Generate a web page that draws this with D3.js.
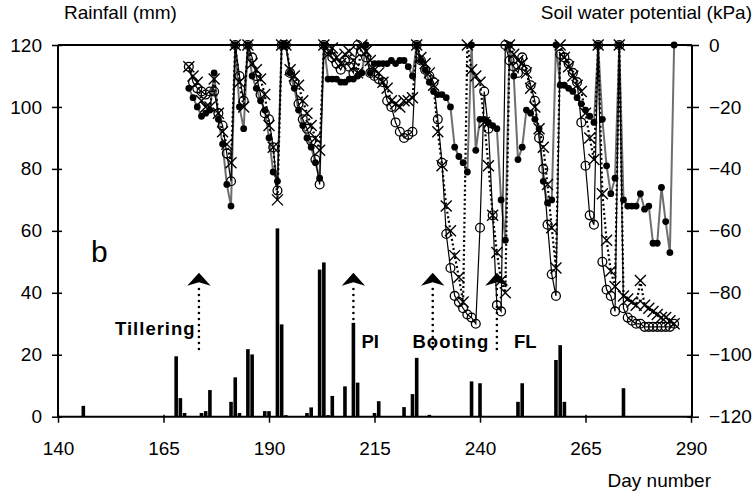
<!DOCTYPE html>
<html><head><meta charset="utf-8">
<script src="https://cdn.jsdelivr.net/npm/d3@7"></script>
<style>
body{margin:0;background:#fff}
text{font-family:"Liberation Sans",Arial,sans-serif;fill:#000}
</style>
</head><body>
<svg id="chart" width="753" height="495"></svg>
<script>
// ---------- data ----------
const xTicks = [140,165,190,215,240,265,290];
const leftTicks = [0,20,40,60,80,100,120];
const rightTicks = [-120,-100,-80,-60,-40,-20,0];

const rainDays = [146,168,169,170,174,175,176,181,182,183,185,186,189,190,192,193,194,199,200,202,203,204,205,208,210,211,215,216,222,224,225,228,238,240,249,250,258,259,260,274];
const rainMm   = [3.5,19.5,6,1.2,1.2,1.8,8.6,4.8,12.7,1.2,21.8,20.1,1.8,1.8,60.8,29.8,0.5,1.2,3,47.5,49.8,0.5,6.7,9.8,30.3,11,1.2,5,3.1,7.3,19,0.6,11.4,10.8,4.8,10.8,18.3,23.1,4.8,9.2];

const swpDays = [171,172,173,174,175,176,177,178,179,180,181,182,183,184,185,186,187,188,189,190,
191,192,193,194,195,196,197,198,199,200,201,202,203,204,205,206,207,208,209,210,
211,212,213,214,215,216,217,218,219,220,221,222,223,224,225,226,227,228,229,230,
231,232,233,234,235,236,237,238,239,240,241,242,243,244,245,246,247,248,249,250,
251,252,253,254,255,256,257,258,259,260,261,262,263,264,265,266,267,268,269,270,
271,272,273,274,275,276,277,278,279,280,281,282,283,284,285,286];

// filled circles, grey line
const swpFilled = [-14,-17,-20,-23,-22,-21,-9,-24,-32,-45,-52,0,-20,-27,0,-10,-14,-18,-21,-30,
-41,-44,0,0,-9,-14,-21,-26,-30,-33,-38,-43,0,-11,-11,-11,-12,-12,-11,-11,
-10,-9,0,-9,-6,-6,-6,-6,-5,-6,-5,-5,-7,-10,0,-5,-8,-12,-15,-16,
-16,-17,-20,-33,-36,-38,-41,0,-34,-24,-24,-25,-26,-27,-50,-63,0,-10,-37,-33,
-21,-22,-24,-27,-44,-51,-50,0,-13,-13,-14,-15,-17,-19,-21,-23,-25,0,-24,-39,
-48,-43,0,-50,-52,-52,-52,-48,-53,-52,-64,-64,-46,-57,-67,0];

// open circles, solid black line
const swpOpen = [-7,-12,-14,-15,-16,-15,-15,-22,-26,-35,-44,0,-10,-18,0,-4,-10,-16,-22,-24,
-33,-47,0,0,-9,-12,-19,-24,-27,-31,-37,-45,0,-2,-4,-6,-8,-5,-7,-9,
0,-2,-4,-9,-10,-11,-12,-18,-20,-25,-28,-30,-29,-28,0,-5,-8,-10,-12,-24,
-38,-61,-72,-81,-83,-85,-87,-88,-90,-59,-15,-27,-55,-84,-86,0,-5,-7,-9,-4,
-8,-13,-18,-30,-40,-58,-74,-81,-3,-4,-6,-9,-12,-25,-39,-55,-58,0,-70,-79,
-81,-86,0,-85,-88,-89,-90,-90,-91,-91,-91,-91,-91,-91,-91,-90];

// crosses, dotted line
const swpCross = [-7,-10,-12,-18,-20,-20,-11,-22,-28,-32,-38,0,-12,-20,0,-6,-8,-11,-16,-26,
-33,-50,0,0,-8,-10,-13,-18,-22,-26,-30,-34,0,-3,-1,-4,-6,-3,-2,-5,
-9,0,-2,-5,-8,-9,-12,-14,-18,-19,-20,-18,-18,-17,0,-4,-6,-9,-13,-28,
-39,-52,-60,-68,-75,-83,0,-8,-10,-12,-25,-39,-55,-67,-76,-80,0,-3,-5,-6,
-9,-14,-20,-27,-33,-45,-59,-72,0,-4,-7,-10,-13,-15,-22,-30,-37,0,-48,-63,
-73,-78,0,-81,-82,-83,-84,-76,-84,-85,-86,-87,-88,-88,-89,-90];

const stageNames = ["Tillering","PI","Booting","FL"];
const stageDays  = [173.4,210,228.8,244];

// ---------- layout ----------
const svg = d3.select("#chart");
const x  = d3.scaleLinear().domain([140,290]).range([58,691]);
const yL = d3.scaleLinear().domain([0,120]).range([416.7,45]);
const yR = d3.scaleLinear().domain([-120,0]).range([416.7,45]);
const FS = 19;

// bars
svg.append("g").selectAll("rect").data(rainDays).join("rect")
  .attr("x", (d)=>x(d)-1.8).attr("width",3.6)
  .attr("y", (d,i)=>yL(rainMm[i])).attr("height",(d,i)=>yL(0)-yL(rainMm[i]))
  .attr("fill","#000");

// axes
const axL = svg.append("g").attr("transform","translate(58,0)")
  .call(d3.axisLeft(yL).tickValues(leftTicks).tickSizeOuter(0));
axL.select(".domain").remove();
axL.selectAll(".tick line").attr("x1",-6).attr("x2",4).attr("stroke-width",1.5);
axL.selectAll(".tick text").attr("x",-16).attr("font-size",FS).attr("font-family","Liberation Sans, Arial, sans-serif");

const axR = svg.append("g").attr("transform","translate(692,0)")
  .call(d3.axisRight(yR).tickValues(rightTicks).tickSizeOuter(0));
axR.select(".domain").remove();
axR.selectAll(".tick line").attr("x1",-5).attr("x2",7).attr("stroke-width",1.5);
axR.selectAll(".tick text").attr("x",17).attr("font-size",FS).attr("font-family","Liberation Sans, Arial, sans-serif");

const axB = svg.append("g").attr("transform",`translate(0,${yL(0)})`)
  .call(d3.axisBottom(x).tickValues(xTicks).tickSizeOuter(0));
axB.select(".domain").remove();
axB.selectAll(".tick line").attr("y1",-2).attr("y2",6).attr("stroke-width",1.5);
axB.selectAll(".tick text").attr("y",25).attr("font-size",FS).attr("font-family","Liberation Sans, Arial, sans-serif");

// frame lines (axes + top)
const fr = svg.append("g").attr("stroke","#000").attr("stroke-width",2);
fr.append("line").attr("x1",58).attr("x2",58).attr("y1",yL(120)).attr("y2",yL(0));
fr.append("line").attr("x1",692).attr("x2",692).attr("y1",yL(120)).attr("y2",yL(0));
fr.append("line").attr("x1",58).attr("x2",692).attr("y1",yL(0)).attr("y2",yL(0));
fr.append("line").attr("x1",58).attr("x2",692).attr("y1",yL(120)).attr("y2",yL(120));

// series
function pts(vals){ return swpDays.map((d,i)=>[d,vals[i]]); }
const line = d3.line().x(d=>x(d[0])).y(d=>yR(d[1]));

svg.append("path").datum(pts(swpFilled)).attr("d",line)
  .attr("fill","none").attr("stroke","#6e6e6e").attr("stroke-width",2);
svg.append("path").datum(pts(swpOpen)).attr("d",line)
  .attr("fill","none").attr("stroke","#000").attr("stroke-width",1.2);
svg.append("path").datum(pts(swpCross)).attr("d",line)
  .attr("fill","none").attr("stroke","#000").attr("stroke-width",2.2).attr("stroke-dasharray","2,2.6");

svg.append("g").selectAll("circle").data(pts(swpFilled)).join("circle")
  .attr("cx",d=>x(d[0])).attr("cy",d=>yR(d[1])).attr("r",3.4).attr("fill","#000");
svg.append("g").selectAll("circle").data(pts(swpOpen)).join("circle")
  .attr("cx",d=>x(d[0])).attr("cy",d=>yR(d[1])).attr("r",4.4)
  .attr("fill","none").attr("stroke","#000").attr("stroke-width",1.3);
svg.append("g").selectAll("path").data(pts(swpCross)).join("path")
  .attr("transform",d=>`translate(${x(d[0])},${yR(d[1])})`)
  .attr("d","M-5.5,-5.5L5.5,5.5M-5.5,5.5L5.5,-5.5").attr("stroke","#000").attr("stroke-width",1.4);

// stage arrows
const arrowBottom = [350,320,350,350];
const ag = svg.append("g");
stageDays.forEach((d,i)=>{
  const cx = x(d);
  ag.append("line").attr("x1",cx).attr("x2",cx).attr("y1",289).attr("y2",arrowBottom[i])
    .attr("stroke","#000").attr("stroke-width",2.6).attr("stroke-linecap","round")
    .attr("stroke-dasharray","0,6");
  ag.append("path").attr("transform",`translate(${cx},272.7)`)
    .attr("d","M0,0L11.7,13L0,9.5L-11.7,13Z").attr("fill","#000");
});
const labelPos = [[115,335],[361.5,348.3],[412.5,348],[514,348.3]];
stageNames.forEach((n,i)=>{
  svg.append("text").attr("x",labelPos[i][0]).attr("y",labelPos[i][1])
    .attr("font-size",18.5).attr("font-weight","bold").attr("letter-spacing",n.length>2?1:0).text(n);
});

// titles
svg.append("text").attr("x",64).attr("y",19).attr("font-size",FS).text("Rainfall (mm)");
svg.append("text").attr("x",752).attr("y",19).attr("text-anchor","end").attr("font-size",FS).text("Soil water potential (kPa)");
svg.append("text").attr("x",711).attr("y",487).attr("text-anchor","end").attr("font-size",FS).text("Day number");
svg.append("text").attr("x",91).attr("y",262).attr("font-size",30).text("b");
</script>
</body></html>
